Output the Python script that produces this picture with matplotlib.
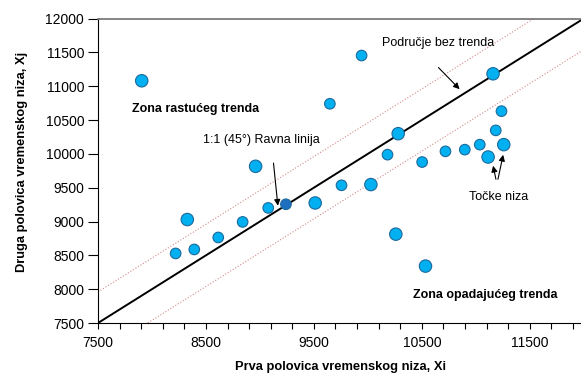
import matplotlib
matplotlib.use("Agg")
import matplotlib.pyplot as plt
from matplotlib.ticker import MultipleLocator, FixedLocator

# first half (Xi) and second half (Xj) of the series
xi = [7905, 9942, 9648, 11160, 11238, 11185, 11037, 11259, 11114, 10898,
      10719, 10503, 10182, 10281, 9756, 10028, 8960, 8327, 8219, 8392,
      8614, 8840, 9077, 9241, 9512, 10259, 10534]
xj = [11080, 11453, 10740, 11183, 10631, 10347, 10136, 10136, 9953, 10062,
      10037, 9879, 9988, 10298, 9535, 9546, 9816, 9029, 8528, 8587,
      8764, 8994, 9201, 9255, 9274, 8813, 8341]

band = 460  # half width of the "no trend" band
x_ticks = [7500, 8500, 9500, 10500, 11500]
y_ticks = [7500, 8000, 8500, 9000, 9500, 10000, 10500, 11000, 11500, 12000]

plt.rcParams['font.family'] = ['Liberation Sans', 'DejaVu Sans']

fig = plt.figure(figsize=(5.81, 3.78), dpi=100)
ax = fig.add_axes([0.1687, 0.1455, 0.836, 0.8055])

# marker sizes / colours (bigger dots drawn in the original)
big = {0, 3, 7, 8, 13, 15, 16, 17, 24, 25, 26}
sizes = [80 if i in big else 58 for i in range(len(xi))]
fills = ['#00B0F0'] * len(xi)
fills[23] = '#1F6FC0'

lo, hi = 7500, 12000
ax.plot([lo, hi], [lo, hi], color='black', lw=1.4, zorder=2)
ax.plot([lo, hi], [lo + band, hi + band], color='#d48a8a', lw=0.8, ls=':', zorder=1)
ax.plot([lo, hi], [lo - band, hi - band], color='#d48a8a', lw=0.8, ls=':', zorder=1)

ax.scatter(xi, xj, s=sizes, c=fills, edgecolors='#1c6a9c', linewidths=0.8, zorder=3)

ax.set_xlim(lo, hi)
ax.set_ylim(lo, hi)
ax.xaxis.set_major_locator(FixedLocator(x_ticks))
ax.xaxis.set_minor_locator(MultipleLocator(200, offset=100))
ax.yaxis.set_major_locator(FixedLocator(y_ticks))
ax.tick_params(axis='both', which='both', direction='out', width=0.8,
               labelsize=10, colors='black')
ax.tick_params(axis='x', which='both', length=4, pad=5)
ax.tick_params(axis='y', length=7, pad=3)
ax.spines['right'].set_visible(False)
ax.spines['top'].set_color('#6f6f6f')
ax.spines['top'].set_linewidth(1.2)

ax.set_xlabel("Prva polovica vremenskog niza, Xi", fontsize=9.3, fontweight='bold', labelpad=8)
ax.set_ylabel("Druga polovica vremenskog niza, Xj", fontsize=9.3, fontweight='bold', labelpad=13)
ax.yaxis.set_label_coords(-0.145, 0.53)

arrow = dict(arrowstyle='-|>', color='black', lw=0.8, mutation_scale=9)
ax.text(10651, 11634, "Područje bez trenda", fontsize=9, ha='center', va='center')
ax.annotate("", xy=(10868, 10926), xytext=(10636, 11305), arrowprops=arrow)

ax.text(9016, 10209, "1:1 (45°) Ravna linija", fontsize=9, ha='center', va='center')
ax.annotate("", xy=(9169, 9192), xytext=(9123, 9904), arrowprops=arrow)

ax.text(7812, 10667, "Zona rastućeg trenda", fontsize=9, fontweight='bold', ha='left', va='center')
ax.text(10419, 7913, "Zona opadajućeg trenda", fontsize=9, fontweight='bold', ha='left', va='center')

ax.text(11207, 9363, "Točke niza", fontsize=9, ha='center', va='center')
ax.annotate("", xy=(11155, 9864), xytext=(11192, 9584), arrowprops=arrow)
ax.annotate("", xy=(11259, 10026), xytext=(11200, 9584), arrowprops=arrow)

fig.savefig("out.png", dpi=100)
